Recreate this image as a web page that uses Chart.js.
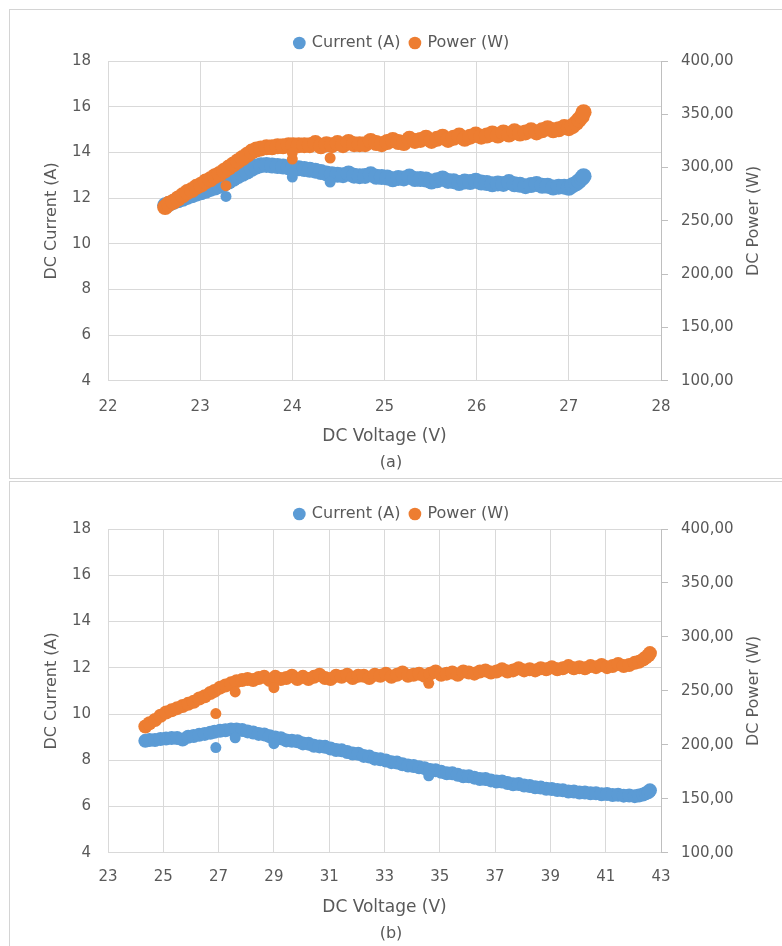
<!DOCTYPE html>
<html>
<head>
<meta charset="utf-8">
<script src="https://cdn.jsdelivr.net/npm/chart.js@4/dist/chart.umd.min.js"></script>
<style>
  body { margin: 0; background: #fff; width: 782px; height: 946px; overflow: hidden; position: relative; }
  .panel { position: absolute; left: 9px; width: 800px; border: 1px solid #d4d4d4; }
  canvas { position: absolute; left: 0; }
</style>
</head>
<body>
<div class="panel" style="top:9px;height:468px;"></div>
<div class="panel" style="top:481px;height:500px;"></div>
<canvas id="chartA" width="782" height="478" style="top:0"></canvas>
<canvas id="chartB" width="782" height="466" style="top:480px"></canvas>
<script>
// ---- data (a) ----
const voltageA = [
  22.62, 22.66, 22.71, 22.76, 22.81, 22.86, 22.91, 22.96, 23.01, 23.06,
  23.11, 23.16, 23.21, 23.26, 23.31, 23.36, 23.41, 23.46, 23.51, 23.56,
  23.61, 23.66, 23.72, 23.78, 23.84, 23.90, 23.96, 24.01, 24.07, 24.13,
  24.19, 24.25, 24.31, 24.37, 24.43, 24.49, 24.55, 24.61, 24.67, 24.73,
  24.79, 24.85, 24.91, 24.97, 25.03, 25.09, 25.15, 25.21, 25.27, 25.33,
  25.39, 25.45, 25.51, 25.57, 25.63, 25.69, 25.75, 25.81, 25.87, 25.93,
  25.99, 26.05, 26.11, 26.17, 26.23, 26.29, 26.35, 26.41, 26.47, 26.53,
  26.59, 26.65, 26.71, 26.77, 26.83, 26.89, 26.95, 27.00, 27.04, 27.08,
  27.11, 27.14, 27.16
];
const currentA = [
  11.68, 11.74, 11.83, 11.90, 11.97, 12.05, 12.12, 12.19, 12.25, 12.32,
  12.40, 12.46, 12.54, 12.62, 12.72, 12.84, 12.96, 13.06, 13.16, 13.28,
  13.38, 13.44, 13.45, 13.42, 13.40, 13.38, 13.34, 13.32, 13.30, 13.27,
  13.24, 13.20, 13.14, 13.08, 13.04, 13.02, 13.00, 13.08, 12.98, 12.96,
  12.97, 13.04, 12.93, 12.92, 12.90, 12.82, 12.88, 12.86, 12.94, 12.83,
  12.83, 12.81, 12.72, 12.78, 12.86, 12.75, 12.74, 12.66, 12.72, 12.70,
  12.76, 12.68, 12.66, 12.60, 12.64, 12.62, 12.70, 12.60, 12.58, 12.52,
  12.57, 12.62, 12.54, 12.54, 12.46, 12.50, 12.50, 12.45, 12.56, 12.64,
  12.74, 12.86, 12.96
];
const powerA = [
  263, 266, 268, 271, 274, 277, 279, 282, 284, 287,
  289, 292, 294, 297, 300, 303, 306, 309, 312, 315,
  317, 318, 319, 319, 320, 320, 321, 321, 321, 321,
  321, 323, 320, 322, 321, 323, 321, 324, 322, 322,
  322, 325, 323, 322, 324, 326, 324, 323, 327, 325,
  326, 328, 325, 327, 329, 326, 328, 330, 327, 329,
  331, 329, 330, 332, 330, 333, 331, 334, 332, 333,
  335, 333, 335, 337, 335, 336, 338, 337, 339, 342,
  345, 348, 352
];
// stray readings of (a)
const outVoltA = [23.28, 24.00, 24.00, 24.41];
const outCurrentA = [12.07, 12.92, 13.10, 12.70];
const outPowerA = [283, 308, 314, 309];

// ---- data (b) ----
const voltageB = [
  24.35, 24.50, 24.70, 24.90, 25.10, 25.30, 25.50, 25.70, 25.90, 26.10,
  26.30, 26.50, 26.70, 26.85, 27.05, 27.25, 27.45, 27.65, 27.85, 28.05,
  28.25, 28.45, 28.65, 28.85, 29.05, 29.25, 29.45, 29.65, 29.85, 30.05,
  30.25, 30.45, 30.65, 30.85, 31.05, 31.25, 31.45, 31.65, 31.85, 32.05,
  32.25, 32.45, 32.65, 32.85, 33.05, 33.25, 33.45, 33.65, 33.85, 34.05,
  34.25, 34.45, 34.65, 34.85, 35.05, 35.25, 35.45, 35.65, 35.85, 36.05,
  36.25, 36.45, 36.65, 36.85, 37.05, 37.25, 37.45, 37.65, 37.85, 38.05,
  38.25, 38.45, 38.65, 38.85, 39.05, 39.25, 39.45, 39.65, 39.85, 40.05,
  40.25, 40.45, 40.65, 40.85, 41.05, 41.25, 41.45, 41.65, 41.85, 42.05,
  42.20, 42.35, 42.45, 42.55, 42.60
];
const currentB = [
  8.84, 8.88, 8.88, 8.92, 8.94, 8.96, 8.96, 8.90, 9.02, 9.05,
  9.10, 9.14, 9.19, 9.23, 9.28, 9.30, 9.33, 9.33, 9.31, 9.25,
  9.20, 9.14, 9.12, 9.04, 8.98, 8.95, 8.86, 8.84, 8.82, 8.73,
  8.72, 8.63, 8.60, 8.58, 8.51, 8.44, 8.43, 8.36, 8.29, 8.28,
  8.19, 8.16, 8.07, 8.04, 7.99, 7.92, 7.90, 7.83, 7.77, 7.75,
  7.70, 7.66, 7.58, 7.57, 7.50, 7.44, 7.44, 7.37, 7.31, 7.31,
  7.25, 7.19, 7.19, 7.13, 7.08, 7.08, 7.02, 6.96, 6.97, 6.91,
  6.89, 6.83, 6.82, 6.77, 6.76, 6.71, 6.70, 6.65, 6.65, 6.61,
  6.61, 6.57, 6.57, 6.53, 6.54, 6.50, 6.51, 6.47, 6.48, 6.45,
  6.48, 6.52, 6.57, 6.63, 6.70
];
const powerB = [
  217, 220, 223, 227, 230, 232, 234, 236, 238, 240,
  243, 245, 248, 250, 253, 255, 257, 259, 260, 261,
  260, 262, 263, 260, 263, 261, 262, 264, 261, 263,
  261, 263, 265, 262, 261, 264, 263, 265, 262, 264,
  264, 262, 265, 264, 266, 263, 265, 267, 264, 265,
  266, 264, 266, 268, 265, 266, 267, 265, 268, 267,
  266, 268, 269, 267, 268, 270, 268, 269, 271, 269,
  270, 269, 271, 270, 272, 270, 271, 273, 271, 272,
  271, 273, 272, 274, 272, 273, 275, 273, 274, 276,
  277, 279, 281, 283, 285
];
// stray readings of (b)
const outVoltB = [26.90, 27.60, 29.00, 34.60];
const outCurrentB = [8.55, 8.97, 8.72, 7.33];
const outPowerB = [229, 249, 253, 257];

const BLUE = "#5b9bd5";
const ORANGE = "#ed7d31";
const TEXT = "#595959";
const GRID = "#d9d9d9";
const FONT = "DejaVu Sans";

function pairs(xs, ys) {
  return xs.map((x, i) => ({ x: x, y: ys[i] }));
}

// trims the legend box height and nudges it sideways
const legendTweak = {
  id: "legendTweak",
  beforeLayout(chart, args, opts) {
    const lg = chart.legend;
    if (lg && !lg._tweaked) {
      const fit = lg.fit;
      lg.fit = function () {
        fit.call(this);
        this.height -= opts.trim || 0;
      };
      lg._tweaked = true;
    }
  },
  afterLayout(chart, args, opts) {
    const lg = chart.legend;
    if (lg && opts.shift) {
      lg.left += opts.shift;
      lg.right += opts.shift;
    }
  }
};

// right axis title reads bottom-to-top like the left one
const rightTitle = {
  id: "rightTitle",
  afterDraw(chart, args, opts) {
    const area = chart.chartArea;
    const ctx = chart.ctx;
    ctx.save();
    ctx.translate(opts.x, (area.top + area.bottom) / 2);
    ctx.rotate(-Math.PI / 2);
    ctx.fillStyle = TEXT;
    ctx.font = "16px '" + FONT + "'";
    ctx.textAlign = "center";
    ctx.textBaseline = "middle";
    ctx.fillText(opts.text, 0, 0);
    ctx.restore();
  }
};

function dots(label, data, axis, color, r, order) {
  return {
    label: label,
    data: data,
    yAxisID: axis,
    backgroundColor: color,
    borderColor: color,
    borderWidth: 0,
    pointRadius: r,
    order: order
  };
}

function makeChart(id, cfg) {
  return new Chart(document.getElementById(id), {
    type: "scatter",
    data: {
      datasets: [
        dots("Current (A)", pairs(cfg.volts, cfg.current), "y", BLUE, cfg.r, 4),
        dots("Power (W)", pairs(cfg.volts, cfg.power), "y2", ORANGE, cfg.r, 2),
        dots("", pairs(cfg.outVolts, cfg.outCurrent), "y", BLUE, 5.5, 3),
        dots("", pairs(cfg.outVolts, cfg.outPower), "y2", ORANGE, 5.5, 1)
      ]
    },
    options: {
      responsive: false,
      animation: false,
      devicePixelRatio: 1,
      layout: { padding: { top: cfg.padTop, left: 0, right: 0, bottom: 0 } },
      plugins: {
        legendTweak: { trim: cfg.trim, shift: 11 },
        rightTitle: { text: "DC Power (W)", x: 754 },
        tooltip: { enabled: false },
        legend: {
          position: "top",
          labels: {
            usePointStyle: true,
            pointStyle: "circle",
            boxWidth: 9,
            boxHeight: 9,
            padding: 10,
            color: TEXT,
            font: { family: FONT, size: 16 },
            filter: (item) => item.datasetIndex < 2,
            sort: (a, b) => a.datasetIndex - b.datasetIndex
          }
        },
        title: {
          display: true,
          position: "bottom",
          text: cfg.caption,
          color: TEXT,
          font: { family: FONT, size: 16, weight: "normal" },
          padding: { top: 0, bottom: cfg.capPad }
        }
      },
      scales: {
        x: {
          type: "linear",
          min: cfg.xMin,
          max: cfg.xMax,
          afterFit: (s) => { s.height = cfg.xHeight; },
          ticks: { stepSize: cfg.xStep, padding: cfg.xTickPad, color: TEXT, font: { family: FONT, size: 15 } },
          grid: { color: GRID, drawTicks: false },
          border: { color: GRID },
          title: {
            display: true,
            text: "DC Voltage (V)",
            color: TEXT,
            font: { family: FONT, size: 17 },
            padding: { top: 0, bottom: 6 }
          }
        },
        y: {
          position: "left",
          min: 4,
          max: 18,
          afterFit: (s) => { s.width = 108; },
          ticks: { stepSize: 2, padding: 17, color: TEXT, font: { family: FONT, size: 15 } },
          grid: { color: GRID, drawTicks: false },
          border: { color: GRID },
          title: {
            display: true,
            text: "DC Current (A)",
            color: TEXT,
            font: { family: FONT, size: 16 },
            padding: { top: 42, bottom: 0 }
          }
        },
        y2: {
          position: "right",
          min: 100,
          max: 400,
          afterFit: (s) => { s.width = 121; },
          ticks: {
            stepSize: 50,
            padding: 13,
            color: TEXT,
            font: { family: FONT, size: 15 },
            callback: (v) => v.toFixed(2).replace(".", ",")
          },
          grid: { drawOnChartArea: false, drawTicks: true, tickLength: 7, color: "#bfbfbf" },
          border: { color: "#bfbfbf" },
          title: { display: false }
        }
      }
    },
    plugins: [legendTweak, rightTitle]
  });
}

makeChart("chartA", {
  volts: voltageA, current: currentA, power: powerA,
  outVolts: outVoltA, outCurrent: outCurrentA, outPower: outPowerA,
  r: 8,
  xMin: 22, xMax: 28, xStep: 1,
  caption: "(a)", capPad: 6,
  padTop: 25, trim: 0,
  xHeight: 72, xTickPad: 17
});

makeChart("chartB", {
  volts: voltageB, current: currentB, power: powerB,
  outVolts: outVoltB, outCurrent: outCurrentB, outPower: outPowerB,
  r: 7,
  xMin: 23, xMax: 43, xStep: 2,
  caption: "(b)", capPad: 3,
  padTop: 16, trim: 3,
  xHeight: 71, xTickPad: 15
});
</script>
</body>
</html>
